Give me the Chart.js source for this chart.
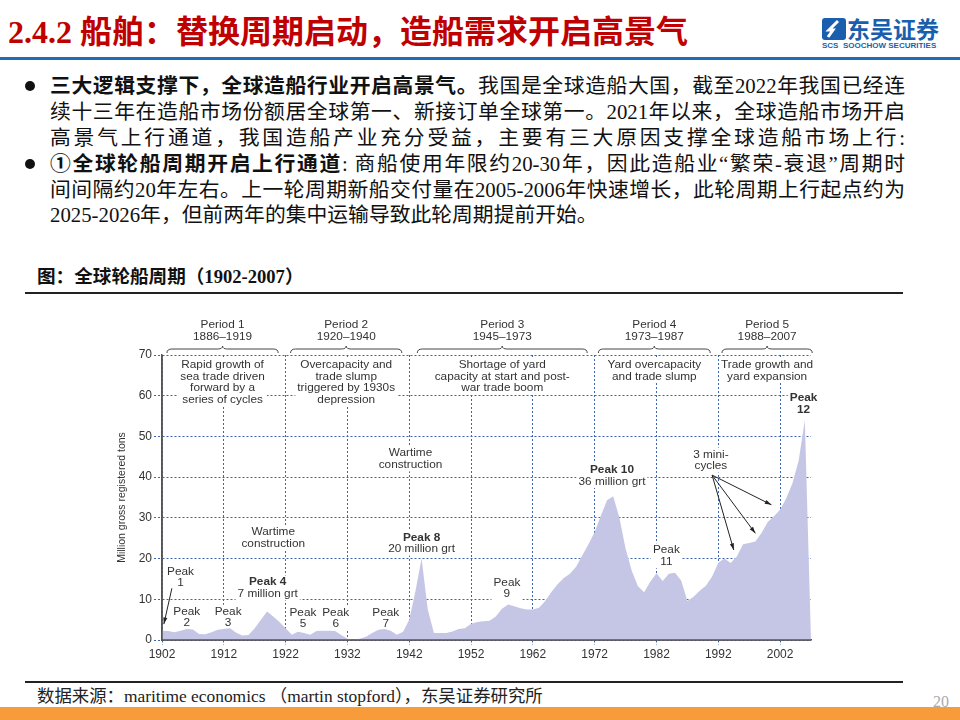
<!DOCTYPE html>
<html>
<head>
<meta charset="utf-8">
<script src="https://cdn.jsdelivr.net/npm/chart.js@4.4.1/dist/chart.umd.min.js"></script>
<style>
  html, body { margin: 0; padding: 0; background: #fff; }
  #slide { position: relative; width: 960px; height: 720px; overflow: hidden; background: #fff; }
  .abs { position: absolute; white-space: nowrap; }
  .title { left: 8px; top: 13px; font: bold 32px "Liberation Serif", "Noto Sans CJK SC"; color: #c00000; line-height: 38px; }
  .logo-cn { left: 847px; top: 14px; font: bold 23px "Noto Sans CJK SC"; color: #1a5fae; line-height: 28px; }
  .logo-en { left: 822px; top: 41px; font: bold 8px "Liberation Sans"; color: #1a5fae; }
  .rule-blue { left: 0; top: 57px; width: 960px; height: 3px; background: #1f6cb8; }
  .line { left: 50px; width: 855px; font: 20.8px/26px "Liberation Serif", "Noto Sans CJK SC"; color: #111; text-align: justify; text-align-last: justify; }
  .line.last { text-align-last: left; }
  .dot { width: 10px; height: 10px; border-radius: 50%; background: #111; left: 25px; }
  .cap { left: 37px; top: 265px; font: bold 18.6px/24px "Liberation Serif", "Noto Sans CJK SC"; color: #111; }
  .rule { left: 25px; width: 878px; height: 2px; background: #222; }
  .src { left: 37px; top: 685px; font: 17.4px/22px "Liberation Serif", "Noto Sans CJK SC"; color: #222; }
  .page { left: 933px; top: 692px; font: 16px/20px "Liberation Serif"; color: #aaa; }
  .bar { left: 0; top: 707px; width: 960px; height: 13px; background: #f89b3a; }
  #wrap { position: absolute; left: 100px; top: 300px; width: 740px; height: 370px; }
</style>
</head>
<body>
<div id="slide">
  <div class="abs title">2.4.2 船舶：替换周期启动，造船需求开启高景气</div>
  <svg class="abs" style="left:822px;top:18px" width="24" height="22" viewBox="0 0 24 22">
    <rect x="0" y="0" width="24" height="22" rx="3" fill="#1a5fae"/>
    <path d="M16 3 L7 12 L11 12 L6 19" stroke="#fff" stroke-width="3" fill="none"/>
  </svg>
  <div class="abs logo-cn">东吴证券</div>
  <div class="abs logo-en">SCS&nbsp;&nbsp;SOOCHOW SECURITIES</div>
  <div class="abs rule-blue"></div>

  <div class="abs dot" style="top:81px"></div>
  <div class="abs line" style="top:73px"><b>三大逻辑支撑下，全球造船行业开启高景气。</b>我国是全球造船大国，截至2022年我国已经连</div>
  <div class="abs line" style="top:99px">续十三年在造船市场份额居全球第一、新接订单全球第一。2021年以来，全球造船市场开启</div>
  <div class="abs line" style="top:125px">高景气上行通道，我国造船产业充分受益，主要有三大原因支撑全球造船市场上行:</div>
  <div class="abs dot" style="top:159px"></div>
  <div class="abs line" style="top:151px"><b>①全球轮船周期开启上行通道</b>: 商船使用年限约20-30年，因此造船业“繁荣-衰退”周期时</div>
  <div class="abs line" style="top:177px">间间隔约20年左右。上一轮周期新船交付量在2005-2006年快速增长，此轮周期上行起点约为</div>
  <div class="abs line last" style="top:202px">2025-2026年，但前两年的集中运输导致此轮周期提前开始。</div>

  <div class="abs cap">图：全球轮船周期（1902-2007）</div>
  <div class="abs rule" style="top:292px"></div>
  <div id="wrap"><canvas id="c" width="740" height="370"></canvas></div>
  <div class="abs rule" style="top:681px"></div>
  <div class="abs src">数据来源：maritime economics （martin stopford），东吴证券研究所</div>
  <div class="abs page">20</div>
  <div class="abs bar"></div>
</div>

<script>
// ---- data ----
const years = [
  1902, 1903, 1904, 1905, 1906, 1907, 1908, 1909, 1910, 1911,
  1912, 1913, 1914, 1915, 1916, 1917, 1918, 1919, 1920, 1921,
  1922, 1923, 1924, 1925, 1926, 1927, 1928, 1929, 1930, 1931,
  1932, 1933, 1934, 1935, 1936, 1937, 1938, 1939, 1940, 1941,
  1942, 1943, 1944, 1945, 1946, 1947, 1948, 1949, 1950, 1951,
  1952, 1953, 1954, 1955, 1956, 1957, 1958, 1959, 1960, 1961,
  1962, 1963, 1964, 1965, 1966, 1967, 1968, 1969, 1970, 1971,
  1972, 1973, 1974, 1975, 1976, 1977, 1978, 1979, 1980, 1981,
  1982, 1983, 1984, 1985, 1986, 1987, 1988, 1989, 1990, 1991,
  1992, 1993, 1994, 1995, 1996, 1997, 1998, 1999, 2000, 2001,
  2002, 2003, 2004, 2005, 2006, 2007
];
const tonnage = [
  2.3, 2.2, 1.9, 2.3, 2.7, 2.6, 1.5, 1.4, 1.9, 2.5,
  2.7, 2.9, 1.8, 1.1, 1.2, 2.9, 5.0, 7.0, 5.8, 4.4,
  2.9, 1.3, 2.0, 1.7, 1.3, 2.2, 2.3, 2.3, 2.2, 1.2,
  0.3, 0.2, 0.3, 0.8, 1.7, 2.5, 2.7, 2.3, 1.3, 2.0,
  5.0, 12.0, 20.0, 7.5, 1.7, 1.7, 1.7, 2.1, 2.7, 2.9,
  4.0, 4.4, 4.6, 4.7, 5.8, 7.7, 8.7, 8.3, 7.8, 7.5,
  7.5, 7.9, 9.6, 11.8, 13.7, 15.2, 16.3, 18.0, 20.8, 23.5,
  26.5, 30.5, 34.3, 35.3, 30.0, 22.5, 17.0, 13.2, 11.7, 14.3,
  16.4, 14.5, 16.3, 16.5, 14.6, 9.6, 10.6, 12.1, 13.3, 15.6,
  19.0, 20.0, 18.9, 20.5, 23.5, 23.8, 24.2, 26.3, 29.0, 30.4,
  32.0, 34.8, 38.5, 44.0, 54.0, 0
];
const xTicks = [1902, 1912, 1922, 1932, 1942, 1952, 1962, 1972, 1982, 1992, 2002];
const yTitle = 'Million gross registered tons';

// period brackets above the plot (x in years)
const periods = [
  { name: 'Period 1', span: '1886–1919', from: 1902.8, to: 1920.8,
    text: ['Rapid growth of', 'sea trade driven', 'forward by a', 'series of cycles'] },
  { name: 'Period 2', span: '1920–1940', from: 1922.8, to: 1940.8,
    text: ['Overcapacity and', 'trade slump', 'triggered by 1930s', 'depression'] },
  { name: 'Period 3', span: '1945–1973', from: 1943.3, to: 1970.8,
    text: ['Shortage of yard', 'capacity at start and post-', 'war trade boom'] },
  { name: 'Period 4', span: '1973–1987', from: 1972.6, to: 1990.7,
    text: ['Yard overcapacity', 'and trade slump'] },
  { name: 'Period 5', span: '1988–2007', from: 1992.6, to: 2007.2,
    text: ['Trade growth and', 'yard expansion'] }
];

// notes: x in years, y in million grt (first line), bold = how many leading lines are bold
const notes = [
  { x: 1920.0, y: 26.5, lines: ['Wartime', 'construction'], bold: 0 },
  { x: 1942.2, y: 45.9, lines: ['Wartime', 'construction'], bold: 0 },
  { x: 1905.0, y: 16.8, lines: ['Peak', '1'], bold: 0 },
  { x: 1906.0, y: 7.0, lines: ['Peak', '2'], bold: 0 },
  { x: 1912.7, y: 7.0, lines: ['Peak', '3'], bold: 0 },
  { x: 1919.1, y: 14.2, lines: ['Peak 4', '7 million grt'], bold: 1 },
  { x: 1924.8, y: 6.7, lines: ['Peak', '5'], bold: 0 },
  { x: 1930.1, y: 6.7, lines: ['Peak', '6'], bold: 0 },
  { x: 1938.2, y: 6.7, lines: ['Peak', '7'], bold: 0 },
  { x: 1944.0, y: 25.2, lines: ['Peak 8', '20 million grt'], bold: 1 },
  { x: 1957.8, y: 14.1, lines: ['Peak', '9'], bold: 0 },
  { x: 1974.8, y: 41.8, lines: ['Peak 10', '36 million grt'], bold: 1 },
  { x: 1983.6, y: 22.1, lines: ['Peak', '11'], bold: 0 },
  { x: 2005.8, y: 59.5, lines: ['Peak', '12'], bold: 2 },
  { x: 1990.8, y: 45.6, lines: ['3 mini-', 'cycles'], bold: 0 }
];

// arrows: [fromYear, fromValue, toYear, toValue]
const arrows = [
  [1903.6, 12.7, 1902.3, 3.9],
  [1991.0, 40.5, 1994.5, 22.1],
  [1991.0, 40.5, 1998.0, 26.2],
  [1991.0, 40.5, 2000.6, 33.2]
];

const GRID = '#3d63b5';
const AXIS = '#555';
const INK = '#333';
const FONT = '"Liberation Sans", Arial, sans-serif';
const LH = 11.5;

function textBlocks() {
  const blocks = periods.map(p => ({ x: (p.from + p.to) / 2, y: 67.6, lines: p.text, bold: 0 }));
  return blocks.concat(notes);
}

function fontFor(bold) {
  return (bold ? 'bold ' : '') + '11.8px ' + FONT;
}

function blockBox(ctx, b, x, y) {
  let w = 0;
  b.lines.forEach((s, i) => {
    ctx.font = fontFor(i < b.bold);
    w = Math.max(w, ctx.measureText(s).width);
  });
  const cx = x.getPixelForValue(b.x);
  const cy = y.getPixelForValue(b.y);
  return { x: cx - w / 2 - 2, y: cy - LH / 2 - 1, w: w + 4, h: b.lines.length * LH + 2, cx, cy };
}

function brace(ctx, x1, x2, yy) {
  const mid = (x1 + x2) / 2;
  ctx.beginPath();
  ctx.moveTo(x1, yy + 4);
  ctx.quadraticCurveTo(x1, yy, x1 + 5, yy);
  ctx.lineTo(mid - 5, yy);
  ctx.quadraticCurveTo(mid, yy, mid, yy - 3);
  ctx.quadraticCurveTo(mid, yy, mid + 5, yy);
  ctx.lineTo(x2 - 5, yy);
  ctx.quadraticCurveTo(x2, yy, x2, yy + 4);
  ctx.stroke();
}

function arrow(ctx, x1, y1, x2, y2) {
  ctx.beginPath();
  ctx.moveTo(x1, y1);
  ctx.lineTo(x2, y2);
  ctx.stroke();
  const a = Math.atan2(y2 - y1, x2 - x1);
  ctx.beginPath();
  ctx.moveTo(x2, y2);
  ctx.lineTo(x2 - 7 * Math.cos(a - 0.3), y2 - 7 * Math.sin(a - 0.3));
  ctx.lineTo(x2 - 7 * Math.cos(a + 0.3), y2 - 7 * Math.sin(a + 0.3));
  ctx.closePath();
  ctx.fill();
}

const notesPlugin = {
  id: 'notes',
  beforeDatasetsDraw(chart) {
    // white boxes behind the labels break the dotted grid, as in the source
    const { ctx, scales: { x, y } } = chart;
    ctx.save();
    ctx.fillStyle = '#fff';
    textBlocks().forEach(b => {
      const r = blockBox(ctx, b, x, y);
      ctx.fillRect(r.x, r.y, r.w, r.h);
    });
    ctx.restore();
  },
  afterDatasetsDraw(chart) {
    const { ctx, chartArea: area, scales: { x, y } } = chart;
    ctx.save();

    // axis lines on top of the area fill
    ctx.strokeStyle = AXIS;
    ctx.lineWidth = 1.5;
    ctx.beginPath();
    ctx.moveTo(area.left, area.top);
    ctx.lineTo(area.left, area.bottom);
    ctx.lineTo(area.right, area.bottom);
    ctx.stroke();

    ctx.fillStyle = INK;
    ctx.textAlign = 'center';
    ctx.textBaseline = 'middle';

    // period headers and braces
    periods.forEach(p => {
      const x1 = x.getPixelForValue(p.from);
      const x2 = x.getPixelForValue(p.to);
      const mid = (x1 + x2) / 2;
      const top = area.top;
      ctx.font = fontFor(false);
      ctx.fillText(p.name, mid, top - 30);
      ctx.fillText(p.span, mid, top - 18.5);
      ctx.strokeStyle = '#444';
      ctx.lineWidth = 1;
      brace(ctx, x1, x2, top - 6);
    });

    // text blocks
    textBlocks().forEach(b => {
      const r = blockBox(ctx, b, x, y);
      b.lines.forEach((s, i) => {
        ctx.font = fontFor(i < b.bold);
        ctx.fillText(s, r.cx, r.cy + i * LH);
      });
    });

    // arrows
    ctx.strokeStyle = '#222';
    ctx.fillStyle = '#222';
    ctx.lineWidth = 1;
    arrows.forEach(([a, b, c, d]) => {
      arrow(ctx, x.getPixelForValue(a), y.getPixelForValue(b), x.getPixelForValue(c), y.getPixelForValue(d));
    });
    ctx.restore();
  }
};

new Chart(document.getElementById('c'), {
  type: 'line',
  data: {
    datasets: [{
      data: years.map((yr, i) => ({ x: yr, y: tonnage[i] })),
      fill: 'origin',
      backgroundColor: '#c5c6e5',
      borderWidth: 0,
      borderColor: 'rgba(0,0,0,0)',
      pointRadius: 0,
      tension: 0
    }]
  },
  options: {
    responsive: false,
    animation: false,
    devicePixelRatio: 1,
    layout: { padding: { left: 0, top: 55, right: 29, bottom: 5 } },
    plugins: { legend: { display: false }, tooltip: { enabled: false } },
    scales: {
      x: {
        type: 'linear',
        min: 1902,
        max: 2007,
        afterBuildTicks: s => { s.ticks = xTicks.map(v => ({ value: v })); },
        afterFit: s => { s.height = 25; },
        ticks: { color: INK, font: { family: FONT, size: 12 }, padding: 2, maxRotation: 0, autoSkip: false,
                 callback: v => String(v) },
        grid: { color: GRID, lineWidth: 1, tickLength: 5, tickBorderDash: [2, 2] },
        border: { display: true, color: AXIS, width: 1.5, dash: [2, 2] }
      },
      y: {
        min: 0,
        max: 70,
        afterFit: s => { s.width = 62; },
        ticks: { stepSize: 10, color: INK, font: { family: FONT, size: 12 }, padding: 2 },
        grid: { color: GRID, lineWidth: 1, tickLength: 8, tickBorderDash: [2, 2] },
        border: { display: true, color: AXIS, width: 1.5, dash: [2, 2] },
        title: { display: true, text: yTitle, color: INK, font: { family: FONT, size: 10.5 }, padding: { top: 16, bottom: 0 } }
      }
    }
  },
  plugins: [notesPlugin]
});
</script>
</body>
</html>
